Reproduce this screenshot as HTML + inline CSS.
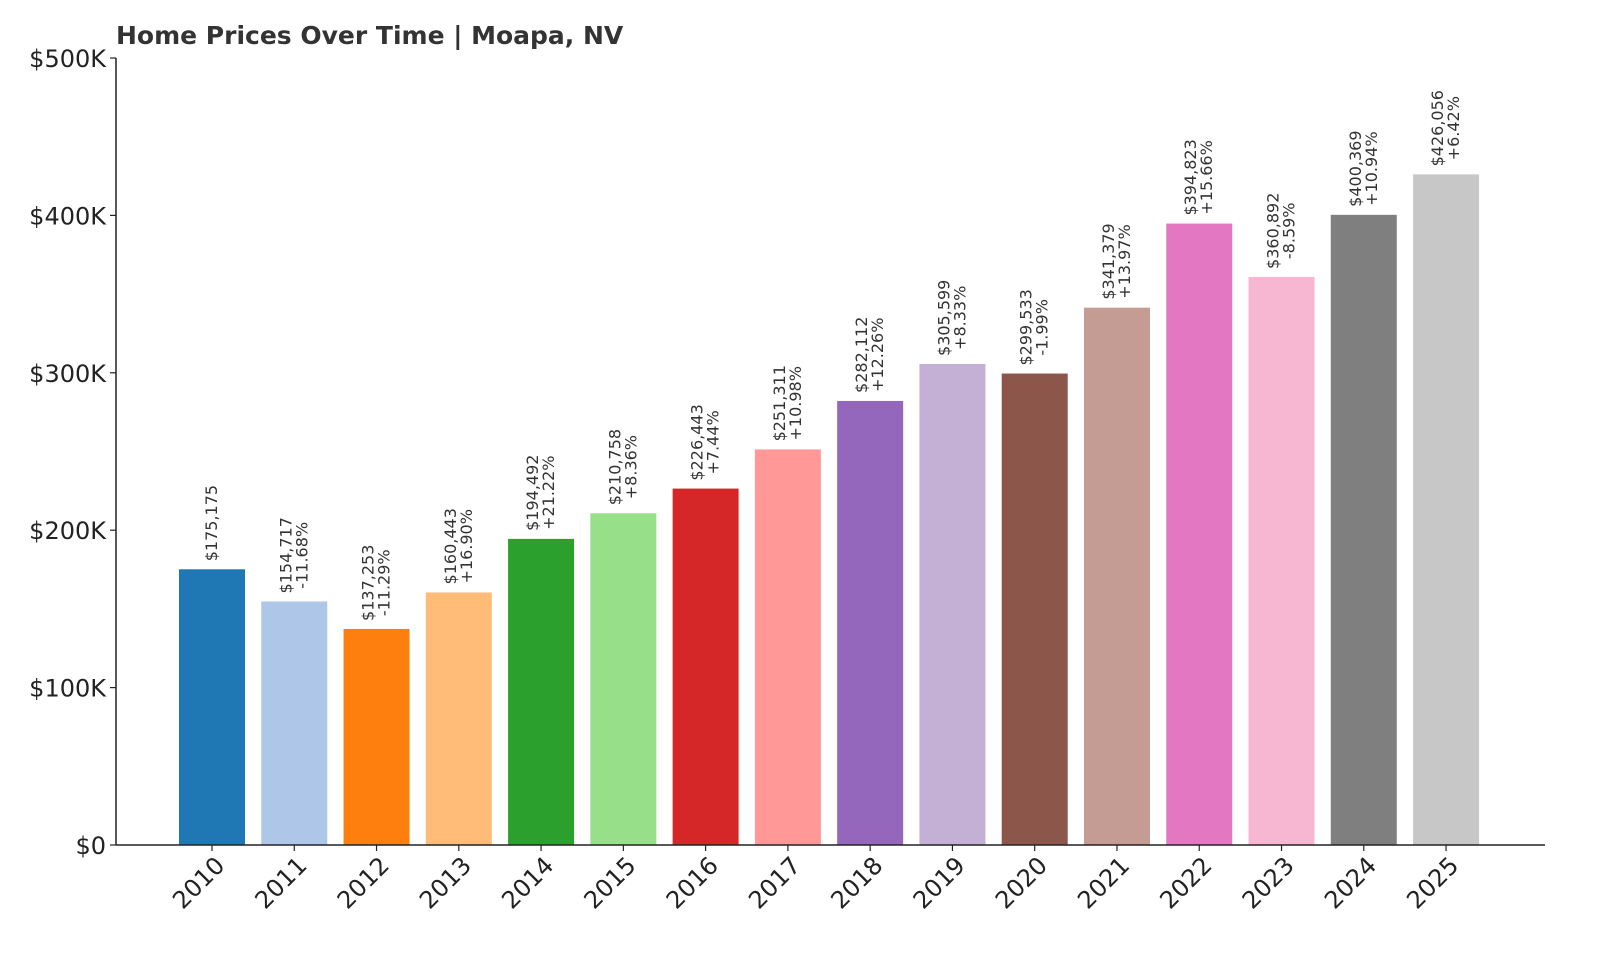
<!DOCTYPE html>
<html><head><meta charset="utf-8"><style>
body{margin:0;background:#fff}
svg{display:block;font-family:"DejaVu Sans","Liberation Sans",sans-serif}
</style></head><body>
<svg id="c" width="1600" height="960">
<text x="116" y="44" font-size="25" font-weight="bold" fill="#333">Home Prices Over Time | Moapa, NV</text>
</svg>
<script>
const years=["2010","2011","2012","2013","2014","2015","2016","2017","2018","2019","2020","2021","2022","2023","2024","2025"];
const prices=[175175,154717,137253,160443,194492,210758,226443,251311,282112,305599,299533,341379,394823,360892,400369,426056];
const changes=["","-11.68%","-11.29%","+16.90%","+21.22%","+8.36%","+7.44%","+10.98%","+12.26%","+8.33%","-1.99%","+13.97%","+15.66%","-8.59%","+10.94%","+6.42%"];
const valueLabels=["$175,175","$154,717","$137,253","$160,443","$194,492","$210,758","$226,443","$251,311","$282,112","$305,599","$299,533","$341,379","$394,823","$360,892","$400,369","$426,056"];
const yTicks=[0,100000,200000,300000,400000,500000];
const yTickLabels=["$0","$100K","$200K","$300K","$400K","$500K"];
const colors=["#1f77b4","#aec7e8","#ff7f0e","#ffbb78","#2ca02c","#98df8a","#d62728","#ff9896","#9467bd","#c5b0d5","#8c564b","#c49c94","#e377c2","#f7b6d2","#7f7f7f","#c7c7c7"];
const svg=document.getElementById('c');const NS='http://www.w3.org/2000/svg';
const x0=116,x1=1545,y0=845,yTop=58,yMax=500000;
const y=v=>y0-(v/yMax)*(y0-yTop);
const step=82.27,first=212,bw=66;
const x=i=>first+i*step;
function mk(t,a,p){const e=document.createElementNS(NS,t);for(const k in a)e.setAttribute(k,a[k]);(p||svg).appendChild(e);return e;}
prices.forEach((v,i)=>{
 const r=mk('rect',{x:x(i)-bw/2,y:y(v),width:bw,height:y0-y(v),fill:colors[i]});
 
 
 const g=mk('text',{transform:`translate(${x(i)},${y(v)-8}) rotate(-90)`,'font-size':16,fill:'#333','text-anchor':'middle'});
 
 
 const lines=changes[i]?[valueLabels[i],changes[i]]:[valueLabels[i]];
 const ts=lines.map((s,j)=>{const t=mk('tspan',{x:0,y:lines.length==2?(j==0?-3:13):5},g);t.textContent=s;return t;});
 const L=Math.max(...ts.map(t=>t.getComputedTextLength()));
 ts.forEach(t=>t.setAttribute('x',L/2));
 const tk=mk('line',{x1:x(i),x2:x(i),y1:y0,y2:y0+6,stroke:'#222','stroke-width':1.2});
 
 
 const xl=mk('text',{transform:`translate(${x(i)+14},${y0+22}) rotate(-45)`,'font-size':24,fill:'#222','text-anchor':'end'});
 
 
 xl.textContent=years[i];
});
yTicks.forEach((v,i)=>{
 const tk=mk('line',{x1:x0-6,x2:x0,y1:y(v),y2:y(v),stroke:'#222','stroke-width':1.2});
 
 
 const t=mk('text',{x:x0-10,y:y(v)+9,'font-size':24,fill:'#222','text-anchor':'end'});
 
 
 t.textContent=yTickLabels[i];
});
const ax=mk('line',{x1:x0,x2:x0,y1:yTop,y2:y0,stroke:'#222','stroke-width':1.5});


const bx=mk('line',{x1:x0,x2:x1,y1:y0,y2:y0,stroke:'#222','stroke-width':1.5});


</script>
</body></html>
